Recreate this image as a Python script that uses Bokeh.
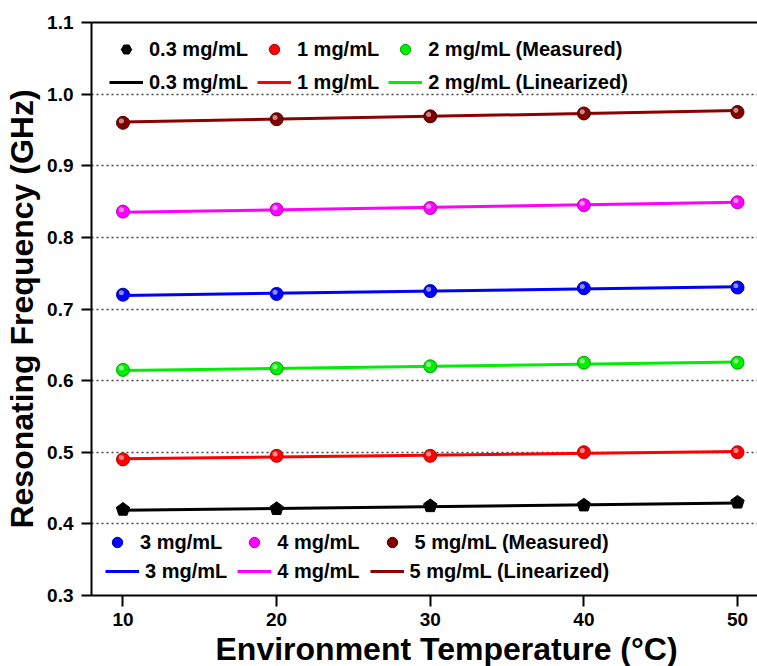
import numpy as np
from bokeh.plotting import figure
from bokeh.models import (Range1d, FixedTicker, PrintfTickFormatter, LinearAxis,
                          Legend, LegendItem, Title)
from bokeh.embed import file_html
from bokeh.resources import INLINE

# ---------------- data ----------------
temps = [10, 20, 30, 40, 50]
freq_03 = [0.420, 0.421, 0.425, 0.426, 0.430]
freq_1 = [0.490, 0.495, 0.495, 0.500, 0.500]
freq_2 = [0.615, 0.617, 0.620, 0.625, 0.625]
freq_3 = [0.720, 0.721, 0.725, 0.729, 0.730]
freq_4 = [0.836, 0.839, 0.841, 0.845, 0.849]
freq_5 = [0.960, 0.965, 0.969, 0.973, 0.975]

fit_temps = [10, 50]
fit_03 = [0.419, 0.429]
fit_1 = [0.491, 0.501]
fit_2 = [0.614, 0.626]
fit_3 = [0.719, 0.731]
fit_4 = [0.835, 0.849]
fit_5 = [0.961, 0.977]

conc_labels = ["0.3 mg/mL", "1 mg/mL", "2 mg/mL", "3 mg/mL", "4 mg/mL", "5 mg/mL"]
x_ticks = [10, 20, 30, 40, 50]
y_ticks = [0.3, 0.4, 0.5, 0.6, 0.7, 0.8, 0.9, 1.0, 1.1]
x_title = "Environment Temperature (°C)"
y_title = "Resonating Frequency (GHz)"

measured = [freq_03, freq_1, freq_2, freq_3, freq_4, freq_5]
fits = [fit_03, fit_1, fit_2, fit_3, fit_4, fit_5]
line_colors = ["#000000", "#ff0000", "#00ee00", "#0000ff", "#ff00ff", "#8b0000"]
dot_colors = ["#000000", "#ff0000", "#00ee00", "#0000ff", "#ff00ff", "#800000"]
dot_edges = ["#000000", "#b00000", "#00a000", "#0000a0", "#b000b0", "#4a0000"]

FONT = "Liberation Sans"
W, H = 757, 666
X0, X1 = 7.95, 51.3
Y0, Y1 = 0.3, 1.1
# approximate pixel scale of the frame (for marker shapes only)
PX_X = (W - 91) / (X1 - X0)
PX_Y = (594 - 22) / (Y1 - Y0)

p = figure(width=W, height=H, output_backend="svg", toolbar_location=None,
           x_range=Range1d(X0, X1), y_range=Range1d(Y0, Y1),
           min_border_left=91, min_border_right=0, min_border_top=22,
           min_border_bottom=0)
p.outline_line_color = None
p.background_fill_color = "white"
p.border_fill_color = "white"

# axes
for ax in (p.xaxis[0], p.yaxis[0]):
    ax.axis_line_width = 2
    ax.axis_line_color = "black"
    ax.major_tick_line_width = 2
    ax.major_tick_line_color = "black"
    ax.major_tick_in = 0
    ax.minor_tick_in = 0
    ax.minor_tick_out = 0
    ax.major_label_text_font = FONT
    ax.major_label_text_font_style = "bold"
    ax.major_label_text_font_size = "19px"
    ax.major_label_text_color = "black"
    ax.axis_label_text_font = FONT
    ax.axis_label_text_font_style = "bold"
    ax.axis_label_text_color = "black"

p.xaxis.ticker = FixedTicker(ticks=x_ticks)
p.xaxis.major_tick_out = 11
p.xaxis.major_label_standoff = 6

p.yaxis.ticker = FixedTicker(ticks=y_ticks)
p.yaxis.formatter = PrintfTickFormatter(format="%.1f")
p.yaxis.major_tick_out = 10
p.yaxis.major_label_standoff = 8
p.yaxis.axis_label = y_title
p.yaxis.axis_label_text_font_size = "32px"
p.yaxis.axis_label_standoff = 4

top_axis = LinearAxis(ticker=FixedTicker(ticks=[]),
                      axis_line_width=2, axis_line_color="black",
                      major_tick_in=0, major_tick_out=0,
                      minor_tick_in=0, minor_tick_out=0,
                      major_label_standoff=0)
p.add_layout(top_axis, "above")

# x-axis title, left-aligned with an offset like the (right-cropped) reference
p.add_layout(Title(text=x_title, align="left", offset=124, standoff=0,
                   text_font=FONT, text_font_style="bold",
                   text_font_size="32px", text_color="black"), "below")

# grid
p.xgrid.visible = False
p.ygrid.ticker = FixedTicker(ticks=y_ticks)
p.ygrid.grid_line_color = "#444444"
p.ygrid.grid_line_dash = "2 3"
p.ygrid.grid_line_width = 1.6

# fitted lines
line_rs = []
for fv, c in zip(fits, line_colors):
    r = p.line(fit_temps, fv, line_color=c, line_width=3)
    line_rs.append(r)

# measured markers
t = np.array(temps, dtype=float)
marker_rs = []
# pentagon for 0.3 mg/mL (hex underneath serves as legend glyph)
pent_leg = p.scatter(t, freq_03, marker="hex", angle=np.pi / 2, size=10,
                     fill_color="black", line_color="black")
R = 7.0
ang = np.deg2rad(90 + 72 * np.arange(5))
xs = [list(tx + R * np.cos(ang) / PX_X) for tx in t]
ys = [list(fy + R * np.sin(ang) / PX_Y) for fy in freq_03]
p.patches(xs, ys, fill_color="black", line_color="black", line_width=1)
marker_rs.append(pent_leg)

for i in range(1, 6):
    fy = np.array(measured[i], dtype=float)
    base = p.scatter(t, fy, marker="circle", size=13,
                     fill_color=dot_colors[i], line_color=dot_edges[i],
                     line_width=1)
    p.scatter(t - 1.6 / PX_X, fy + 1.8 / PX_Y, marker="circle", size=5,
              fill_color="white", fill_alpha=0.55, line_color=None)
    marker_rs.append(base)


def make_legend(items, vx, vy, spacing):
    return Legend(items=items, location=(vx, vy), orientation="horizontal",
                  padding=0, margin=0, spacing=spacing, label_standoff=6,
                  glyph_width=34, glyph_height=26, label_height=26,
                  label_text_font=FONT, label_text_font_style="bold",
                  label_text_font_size="20px", label_text_color="black",
                  border_line_color=None, background_fill_alpha=0)


top1 = make_legend([
    LegendItem(label=conc_labels[0], renderers=[marker_rs[0]]),
    LegendItem(label=conc_labels[1], renderers=[marker_rs[1]]),
    LegendItem(label=conc_labels[2] + " (Measured)", renderers=[marker_rs[2]]),
], 18, 533, 9)
top2 = make_legend([
    LegendItem(label=conc_labels[0], renderers=[line_rs[0]]),
    LegendItem(label=conc_labels[1], renderers=[line_rs[1]]),
    LegendItem(label=conc_labels[2] + " (Linearized)", renderers=[line_rs[2]]),
], 18, 500, 9)
bot1 = make_legend([
    LegendItem(label=conc_labels[3], renderers=[marker_rs[3]]),
    LegendItem(label=conc_labels[4], renderers=[marker_rs[4]]),
    LegendItem(label=conc_labels[5] + " (Measured)", renderers=[marker_rs[5]]),
], 9, 40, 15)
bot2 = make_legend([
    LegendItem(label=conc_labels[3], renderers=[line_rs[3]]),
    LegendItem(label=conc_labels[4], renderers=[line_rs[4]]),
    LegendItem(label=conc_labels[5] + " (Linearized)", renderers=[line_rs[5]]),
], 14, 11, 10)
for lg in (top1, top2, bot1, bot2):
    p.add_layout(lg, "center")

open("out.html", "w").write(file_html(p, INLINE))
